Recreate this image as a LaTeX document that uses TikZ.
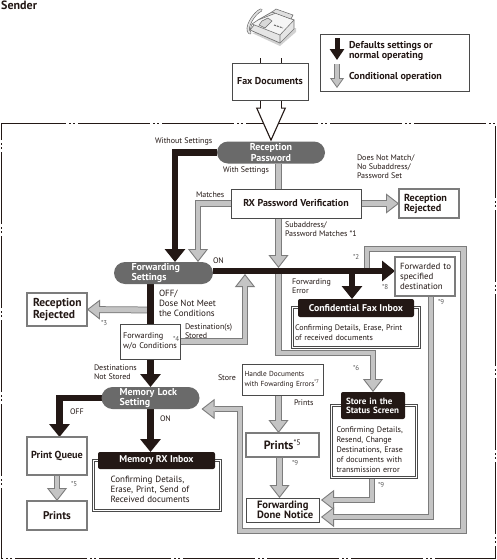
\documentclass[tikz,border=0pt]{standalone}
\usepackage{fontspec}
\setsansfont{PT Sans}
\usetikzlibrary{arrows.meta,positioning,backgrounds,shapes.misc}
\definecolor{ink}{HTML}{231815}
\definecolor{pillgray}{HTML}{6A6A6A}
\definecolor{condfill}{HTML}{C4C4C4}
\definecolor{condedge}{HTML}{7C7C7C}
\definecolor{boxedge}{HTML}{4A4A4A}

\begin{document}
\begin{tikzpicture}[
  x=1pt, y=-1pt,
  font=\sffamily,
  box/.style={draw=boxedge, fill=white, line width=.9pt, inner sep=0pt, outer sep=0pt,
    minimum width=#1, align=left, text=ink},
  softbox/.style={box=#1, draw=condedge, line width=1.1pt},
  pill/.style={rounded rectangle, fill=pillgray, text=white, inner sep=0pt, outer sep=0pt,
    minimum height=22pt, minimum width=#1, align=left, font=\sffamily\bfseries\fontsize{10}{9}\selectfont},
  inbox/.style={draw=boxedge, double=white, double distance=1.2pt, line width=.9pt, fill=white,
    inner sep=0pt, outer sep=0pt, minimum width=#1},
  banner/.style={fill=ink, text=white, rounded corners=2pt, inner sep=0pt, outer sep=0pt,
    minimum width=#1, align=left, font=\sffamily\bfseries\fontsize{9.8}{9.2}\selectfont},
  note/.style={inner sep=0pt, outer sep=0pt, anchor=west, align=left, text=ink,
    font=\sffamily\fontsize{8}{9}\selectfont},
  refmark/.style={note, text=black!65, font=\sffamily\fontsize{7}{8}\selectfont},
  body/.style={font=\sffamily\fontsize{#1}{10}\selectfont, align=left, text=ink},
  bold/.style={font=\sffamily\bfseries\fontsize{#1}{10}\selectfont, align=left, text=ink},
  flow/.style={draw=ink, line width=6.5pt, -{Triangle[width=20pt,length=13pt,color=ink]}},
  cond/.style={draw=condfill, line width=4.8pt,
    -{Triangle[width=20pt,length=13pt,line width=.9pt,fill=condfill,color=condedge]},
    preaction={draw=condedge, line width=6.8pt, arrows=-, shorten >=13pt},
    postaction={draw=condfill, line width=4.8pt, arrows=-, shorten >=10pt}},
  keyflow/.style={draw=ink, line width=5pt, -{Triangle[width=14pt,length=11pt,color=ink]}},
  keycond/.style={draw=condfill, line width=4.5pt,
    -{Triangle[width=14pt,length=10pt,line width=.8pt,fill=condfill,color=condedge]},
    preaction={draw=condedge, line width=6pt, arrows=-, shorten >=10pt},
    postaction={draw=condfill, line width=4.5pt, arrows=-, shorten >=8pt}},
  openflow/.style={draw=white, line width=20pt,
    -{Triangle[width=30pt,length=34pt,line width=1.1pt,fill=white,color=ink]},
    preaction={draw=ink, line width=22pt, arrows=-, shorten >=34pt},
    postaction={draw=white, line width=20pt, arrows=-, shorten >=32pt}}
]
\useasboundingbox (0,0) rectangle (497,560);

\node[bold=12, anchor=west, inner sep=0pt] (sender) at (1,5) {Sender};

% fax machine
\fill[black!18] (252,33) -- (280,46) -- (296,32) -- (296,28) -- cycle;
\draw[black!55, fill=black!10, line width=.7pt] (258,20) -- (272,12) -- (294,20) -- (294,29) -- (280,43) -- (250,30) -- cycle;
\draw[black!55, fill=black!4, line width=.6pt] (258,20) -- (276,13) -- (294,20) -- (280,35) -- (252,24) -- cycle;
\draw[black!55, line width=.6pt] (250,30) -- (252,24) (280,43) -- (280,35);
\draw[black!60, fill=black!15, line width=.5pt] (262,21) -- (268,18) -- (272,21) -- (265,28) -- (259,25) -- cycle;
\draw[black!60, line width=1pt, dash pattern=on 2pt off 1pt] (274,25) -- (283,28);
\draw[black!60, fill=black!12, line width=.5pt] (272,12) -- (276,9) -- (293,15) -- (291,19) -- cycle;
\draw[black!60, line width=3pt, line cap=round] (250,33) .. controls (244,29) and (254,13) .. (261,10);
\draw[black!12, line width=1.8pt, line cap=round] (250,33) .. controls (244,29) and (254,13) .. (261,10);

\coordinate (fax) at (271,58);
\node[box=76pt, minimum height=37pt, below=5pt of fax, xshift=-1pt, bold=10] (faxdocs) {Fax Documents};

\node[box=149pt, minimum height=57pt, fill=none] (legend) at (395,62.5) {};
\coordinate (keytop) at (337,38);
\coordinate (keymid) at (337,60);
\coordinate (keylow) at (337,64);
\coordinate (keyend) at (337,88);
\node[note, bold=10, anchor=west] (keydefault) at (349,51) {Defaults settings or\\normal operating};
\node[note, bold=10, anchor=west] (keycondition) at (349,77) {Conditional operation};

\node[pill=108pt, align=center] (passwd) at (271,152.5) {Reception\\Password};
\node[box=130pt, minimum height=29pt, bold=10] (verify) at (296,203.5) {RX Password Verification};
\node[softbox=60pt, minimum height=29pt, right=38pt of verify, text width=50pt, bold=10.2] (rejecta) {Reception\\Rejected};
\node[pill=99pt, text width=64pt] (fwd) at (163.5,273) {Forwarding\\Settings};
\node[softbox=60pt, minimum height=33pt, text width=48pt, bold=11.5] (rejectb) at (57,309.5) {Reception\\Rejected};
\node[box=60pt, minimum height=35pt, text width=55pt, below=40pt of fwd, xshift=-13pt, body=8.3] (fwdwo) {Forwarding\\w/o~Conditions};
\node[pill=98pt, text width=62pt, below=28pt of fwdwo] (mlock) {Memory Lock\\Setting};
\node[softbox=60pt, minimum height=38pt, bold=10.2] (printq) at (57,456) {Print Queue};
\node[softbox=60pt, minimum height=29pt, below=26pt of printq, bold=11.2] (printsa) {Prints};
\node[inbox=127pt, minimum height=50pt] (rxframe) at (157,485.5) {};
\node[banner=117pt, minimum height=17pt, align=center] (rxhead) at (156.5,460.5) {Memory RX Inbox};
\node[body=9, text width=92pt, below=4pt of rxhead] (rxtext) {Confirming Details,\\Erase, Print, Send of\\Received documents};

\node[softbox=60pt, minimum height=39pt, text width=50pt, body=8.9] (forwarded) at (425,276.5) {Forwarded~to\\specified\\destination};
\node[inbox=127pt, minimum height=40pt] (confframe) at (356,327.5) {};
\node[banner=116pt, minimum height=18pt, align=center] (confhead) at (356,308) {Confidential Fax Inbox};
\node[body=8, text width=122pt, below=4pt of confhead] (conftext) {Confirming Details, Erase, Print\\of received documents};

\node[box=81pt, minimum height=31pt, text width=76pt, body=7.3] (handle) at (282.5,379.5) {Handle Documents\\with Fowarding~Errors\textsuperscript{*7}};
\node[softbox=73pt, minimum height=24pt, below=38pt of handle, bold=12] (printsb) {Prints{\mdseries\textsuperscript{*5}}};
\node[box=73pt, minimum height=24pt, below=41pt of printsb, text width=51pt, bold=10.6] (done) {Forwarding\\\mbox{Done Notice}};
\node[inbox=85pt, minimum height=72pt] (storeframe) at (374,441.5) {};
\node[banner=64pt, minimum height=27pt, text width=54pt, font=\sffamily\bfseries\fontsize{9}{9.2}\selectfont] (storehead) at (373,405.5) {Store in the\\Status~Screen};
\node[body=8.1, text width=77pt, below=4pt of storehead, xshift=2pt] (storetext) {Confirming Details,\\Resend, Change\\Destinations, Erase\\of documents with\\transmission error};

\node[note] (nowithout) at (155,141) {Without Settings};
\node[note] (nowith) at (223,170) {With Settings};
\node[note] (nomatch) at (357,167) {Does Not Match/\\No Subaddress/\\Password Set};
\node[note] (nomatches) at (196,195) {Matches};
\node[note] (noon) at (213,261) {ON};
\node[note] (nosub) at (285,229.5) {Subaddress/\\Password Matches *1};
\node[note] (noerror) at (292,286) {Forwarding\\Error};
\node[note, font=\sffamily\fontsize{9}{10}\selectfont] (nooff) at (159,303) {OFF/\\Dose Not Meet\\the Conditions};
\node[note] (nostored) at (185,331) {Destination(s)\\Stored};
\node[note] (nonot) at (94,372) {Destinations\\Not Stored};
\node[note] (nostore) at (218,378) {Store};
\node[note] (noprints) at (294,403) {Prints};
\node[note] (nooffb) at (70,412) {OFF};
\node[note] (noonb) at (160,419) {ON};
\node[refmark] (stara) at (353,257) {*2};
\node[refmark] (starb) at (101,323) {*3};
\node[refmark] (starc) at (173,339) {*4};
\node[refmark] (stard) at (71,484) {*5};
\node[refmark] (stare) at (353,368) {*6};
\node[refmark] (starf) at (382,287) {*8};
\node[refmark] (starg) at (438,302) {*9};
\node[refmark] (starh) at (292,463) {*9};
\node[refmark] (stari) at (378,485) {*9};

\coordinate (cross) at (278.5,271);
\coordinate (errtap) at (367,271);
\coordinate (offtap) at ([xshift=-12.5pt,yshift=-26pt]fwd.south);

\begin{scope}[on background layer]
  \fill[white] (0,0) rectangle (497,560);
  \draw[line width=1pt, ink, dash pattern=on 72pt off 3pt on 2pt off 2pt on 2pt off 3pt, dash phase=7pt]
    (1,123) -- (495,123) -- (495,558) -- (1,558) -- cycle;
  \draw[openflow] (fax) -- (passwd.north);
  \draw[keyflow] (keytop) -- (keymid);
  \draw[keycond] (keylow) -- (keyend);
  \draw[cond] ([xshift=7.5pt]passwd.south) -- ([yshift=3pt]cross);
  \draw[cond] (cross) -- ++(0,82) -| (storehead.north);
  \draw[cond] (errtap) -- ++(0,-22) -- ++(96.5,0) -- ++(0,282) -- (240,531) -- (240,409)
    -- ([xshift=2pt,yshift=-11pt]mlock.east);
  \draw[cond] (verify.west) -| ([xshift=34.5pt]fwd.north);
  \draw[cond] (verify.east) -- (rejecta.west);
  \draw[cond] (offtap) -- (rejectb.east);
  \draw[cond] (fwdwo.east) -| ([xshift=-33.5pt,yshift=-3pt]cross);
  \draw[cond] (printq.south) -- (printsa.north);
  \draw[cond] ([xshift=-4pt]handle.south) -- ([xshift=-4pt]printsb.north);
  \draw[cond] ([xshift=-3pt]printsb.south) -- ([xshift=-3pt]done.north);
  \draw[cond] ([xshift=-2pt]storeframe.south) |- ([xshift=2pt,yshift=10pt]done.east);
  \draw[cond] ([xshift=6pt]forwarded.south) |- ([xshift=2pt,yshift=-7pt]done.east);
  \draw[flow] (passwd.west) -| ([xshift=11.5pt]fwd.north);
  \draw[flow] ([yshift=2pt]fwd.east) -- (forwarded.west |- cross);
  \draw[flow] ([xshift=-4pt]confhead.north |- cross) -- ([xshift=-4pt]confhead.north);
  \draw[flow] (mlock.north |- fwd.south) -- (mlock.north);
  \draw[flow] (mlock.west) -| ([xshift=2.5pt]printq.north);
  \draw[flow] (mlock.south) -- (mlock.south |- rxhead.north);
\end{scope}
\end{tikzpicture}
\end{document}
